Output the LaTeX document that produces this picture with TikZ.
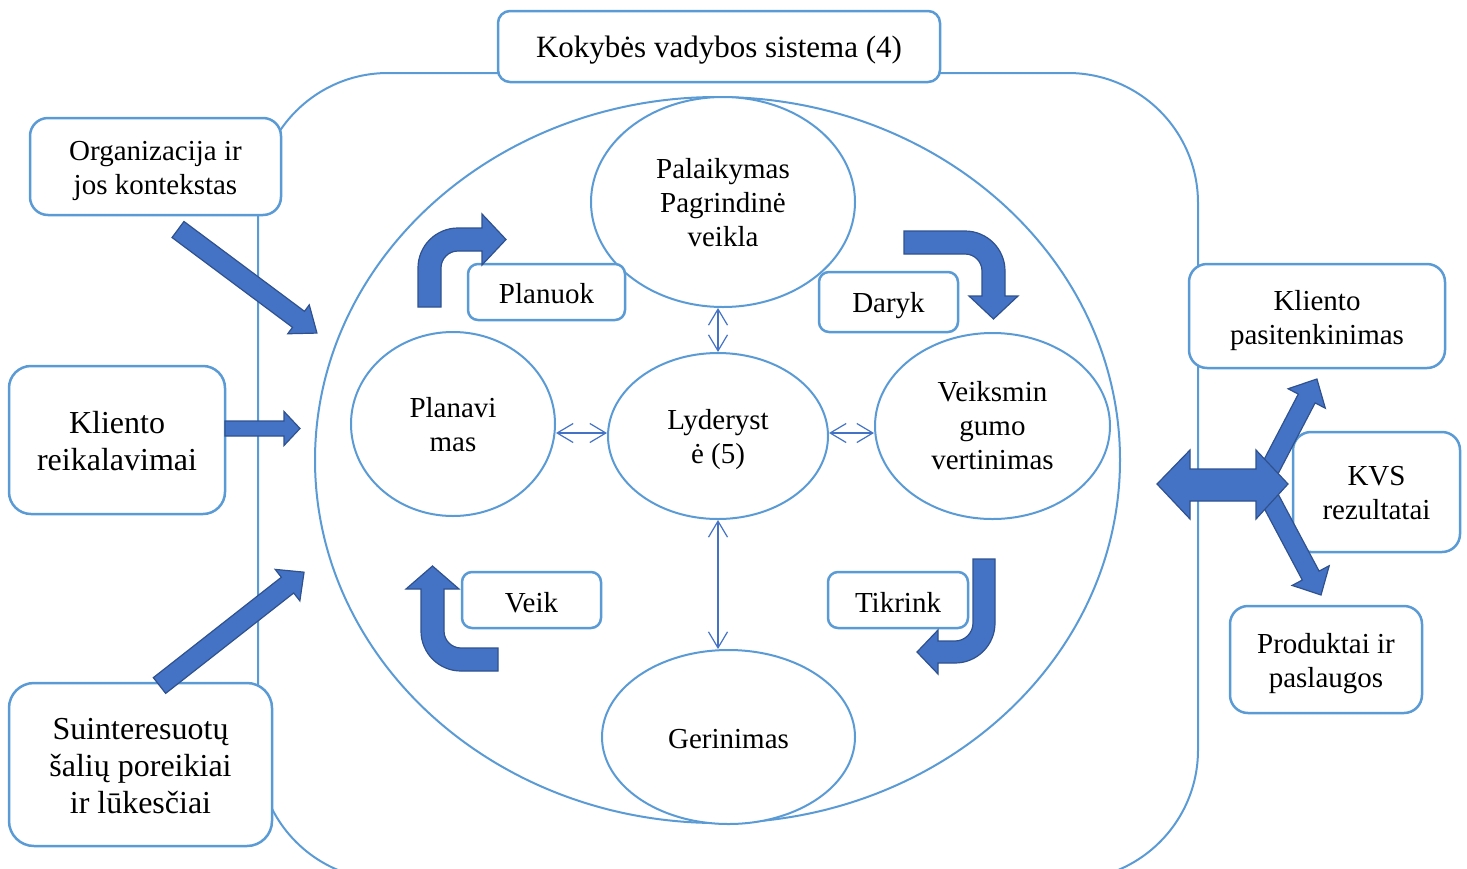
\documentclass[tikz,border=0pt]{standalone}
\usepackage{fontspec}
\setmainfont{Liberation Serif}
\usetikzlibrary{shapes.geometric,arrows.meta}

\definecolor{lineblue}{HTML}{5B9BD5}
\definecolor{fillblue}{HTML}{4472C4}
\definecolor{edgeblue}{HTML}{2F528F}

\newcommand{\fsmain}{\fontsize{29}{34}\selectfont}
\newcommand{\fsbig}{\fontsize{32}{37}\selectfont}

% centred lines of text, set a little lower than the box centre
\newcommand{\lowered}[2][4pt]{\raisebox{-#1}[\height][\depth]{\begin{tabular}{@{}c@{}}#2\end{tabular}}}

% straight block arrow: tail x, tail y, angle, length, shaft half width, head half width, head length
\newcommand{\blockarr}[7]{%
  \begin{scope}[shift={(#1,#2)},rotate=#3]
    \filldraw[blockarrow] (0,-#5) -- ({#4-#7},-#5) -- ({#4-#7},-#6) -- (#4,0)
      -- ({#4-#7},#6) -- ({#4-#7},#5) -- (0,#5) -- cycle;
  \end{scope}}

\tikzset{
  box/.style={draw=lineblue, line width=2.5pt, fill=white, rounded corners=14pt,
    inner sep=0pt, font=\fsmain},
  ell/.style={ellipse, draw=lineblue, line width=2pt, fill=white, inner sep=0pt,
    font=\fsmain},
  link/.style={draw=fillblue, line width=1.2pt,
    {Straight Barb[length=16pt,width=19pt]}-{Straight Barb[length=16pt,width=19pt]}},
  blockarrow/.style={fill=fillblue, draw=edgeblue, line width=1.2pt, line join=miter}
}

\begin{document}
\begin{tikzpicture}[x=1pt,y=-1pt]
\useasboundingbox (0,0) rectangle (1467,868);
\clip (0,0) rectangle (1467,868);

% system frame and main circle
\draw[lineblue, line width=2pt, rounded corners=130pt] (258,73) rectangle (1198,880);
\node[ell, minimum width=805pt, minimum height=726pt] (big) at (717.5,460) {};

% process ellipses
\node[ell, minimum width=264pt, minimum height=210pt] (pal) at (723,202) {\lowered[3.5pt]{Palaikymas\\Pagrindinė\\veikla}};
\node[ell, minimum width=204pt, minimum height=184pt] (plan) at (453,424) {\lowered[4pt]{Planavi\\mas}};
\node[ell, minimum width=220pt, minimum height=166pt] (lyd) at (718,436) {\lowered[4pt]{Lyderyst\\ė (5)}};
\node[ell, minimum width=235pt, minimum height=186pt] (vert) at (992.5,426) {\lowered[3pt]{Veiksmin\\gumo\\vertinimas}};
\node[ell, minimum width=253pt, minimum height=174pt] (ger) at (728.5,737) {\lowered[5pt]{Gerinimas}};

% links to leadership
\draw[link] (lyd.north) -- (lyd.north |- pal.south);
\draw[link] (lyd.south) -- (lyd.south |- ger.north);
\draw[link] ([yshift=3pt]lyd.west) -- ([yshift=3pt]lyd.west -| plan.east);
\draw[link] ([yshift=3pt]lyd.east) -- ([yshift=3pt]lyd.east -| vert.west);

% title and cycle labels
\node[box, rounded corners=12pt, minimum width=442pt, minimum height=71pt, font=\fontsize{31}{36}\selectfont] (title) at (719,46.5) {\lowered{Kokybės vadybos sistema (4)}};
\node[box, rounded corners=10pt, minimum width=157pt, minimum height=56pt] (planuok) at (546.5,292) {\lowered[4.5pt]{Planuok}};
\node[box, rounded corners=10pt, minimum width=139pt, minimum height=60pt] (daryk) at (888.5,302) {\lowered{Daryk}};
\node[box, rounded corners=10pt, minimum width=139pt, minimum height=56pt] (veik) at (531.5,600) {\lowered[6pt]{Veik}};
\node[box, rounded corners=10pt, minimum width=140pt, minimum height=56pt] (tikrink) at (898,600) {\lowered[5.5pt]{Tikrink}};

% inputs
\node[box, rounded corners=18pt, minimum width=251pt, minimum height=97pt] (org) at (155.5,166.5) {\lowered[4.5pt]{Organizacija ir\\jos kontekstas}};
\node[box, rounded corners=22pt, minimum width=216pt, minimum height=148pt, font=\fsbig] (req) at (117,440) {\lowered[5pt]{Kliento\\reikalavimai}};
\node[box, rounded corners=25pt, minimum width=263pt, minimum height=163pt, font=\fsbig] (need) at (140.5,764.5) {\lowered[5pt]{Suinteresuotų\\šalių poreikiai\\ir lūkesčiai}};

% outputs
\node[box, rounded corners=18pt, minimum width=256pt, minimum height=104pt] (sat) at (1317,316) {\lowered[4.5pt]{Kliento\\pasitenkinimas}};
\node[box, rounded corners=18pt, minimum width=167pt, minimum height=120pt] (kvs) at (1376.5,492) {\lowered[4pt]{KVS\\rezultatai}};
\node[box, rounded corners=18pt, minimum width=192pt, minimum height=107pt] (prod) at (1326,659.5) {\lowered[4.5pt]{Produktai ir\\paslaugos}};

% input arrows
\blockarr{178}{229.5}{-36.7}{173.3}{10}{18}{23}
\blockarr{225}{428.5}{0}{75}{7.5}{17}{16}
\blockarr{159.5}{685.5}{38.1}{183.7}{10}{20}{21}

% output arrows
\blockarr{1262}{484}{62.4}{118.5}{9.5}{21}{22}
\blockarr{1262}{484}{-62}{125.7}{9.5}{21}{22}
\filldraw[blockarrow] (1157,484) -- (1190,450) -- (1190,469) -- (1256,469) -- (1256,450)
  -- (1288,484) -- (1256,519) -- (1256,501) -- (1190,501) -- (1190,519) -- cycle;

% PDCA bent arrows
\filldraw[blockarrow] (441,307) -- (418,307) -- (418,268)
  .. controls (418,245.9) and (435.9,228) .. (458,228) -- (482,228) -- (482,214)
  -- (506,239.5) -- (482,265) -- (482,251) -- (458,251)
  .. controls (448.6,251) and (441,258.6) .. (441,268) -- cycle;
\filldraw[blockarrow] (904,231) -- (965,231)
  .. controls (987.1,231) and (1005,248.9) .. (1005,271) -- (1005,296) -- (1018,296)
  -- (993.5,319) -- (969,296) -- (982,296) -- (982,271)
  .. controls (982,261.6) and (974.4,254) .. (965,254) -- (904,254) -- cycle;
\filldraw[blockarrow] (498,671) -- (461,671)
  .. controls (438.9,671) and (421,653.1) .. (421,631) -- (421,589) -- (406,589)
  -- (432.5,566) -- (459,589) -- (444,589) -- (444,631)
  .. controls (444,640.4) and (451.6,648) .. (461,648) -- (498,648) -- cycle;
\filldraw[blockarrow] (995,559) -- (995,623)
  .. controls (995,645.1) and (977.1,663) .. (955,663) -- (938,663) -- (938,674)
  -- (917,652) -- (938,630) -- (938,641) -- (955,641)
  .. controls (964.9,641) and (973,632.9) .. (973,623) -- (973,559) -- cycle;
\end{tikzpicture}
\end{document}
